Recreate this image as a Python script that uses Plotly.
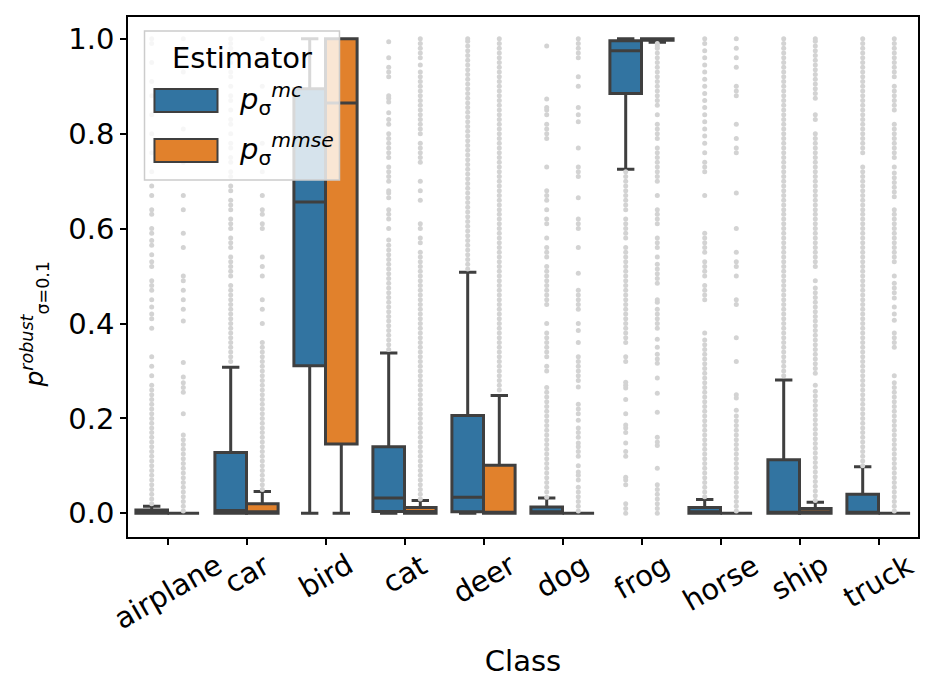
import plotly.graph_objects as go

classes = ["airplane", "car", "bird", "cat", "deer", "dog", "frog", "horse", "ship", "truck"]
ytick_vals = [0.0, 0.2, 0.4, 0.6, 0.8, 1.0]
ytick_text = ["0.0", "0.2", "0.4", "0.6", "0.8", "1.0"]

# p_sigma^mc box statistics
mc_q1 = [0.0, 0.0, 0.311, 0.004, 0.003, 0.0, 0.885, 0.0, 0.0, 0.0]
mc_med = [0.003, 0.006, 0.656, 0.032, 0.034, 0.003, 0.975, 0.003, 0.002, 0.001]
mc_q3 = [0.007, 0.128, 0.895, 0.140, 0.206, 0.013, 0.996, 0.012, 0.113, 0.040]
mc_lo = [0.0, 0.0, 0.0, 0.0, 0.0, 0.0, 0.725, 0.0, 0.0, 0.0]
mc_hi = [0.015, 0.308, 1.0, 0.338, 0.508, 0.032, 1.0, 0.029, 0.281, 0.098]

# p_sigma^mmse box statistics
mmse_q1 = [0.0, 0.0, 0.146, 0.0, 0.0, 0.0, 0.997, 0.0, 0.0, 0.0]
mmse_med = [0.0, 0.003, 0.865, 0.004, 0.0, 0.0, 1.0, 0.0, 0.003, 0.0]
mmse_q3 = [0.0, 0.020, 1.0, 0.012, 0.101, 0.0, 1.0, 0.0, 0.010, 0.0]
mmse_lo = [0.0, 0.0, 0.0, 0.0, 0.0, 0.0, 0.993, 0.0, 0.0, 0.0]
mmse_hi = [0.0, 0.046, 1.0, 0.027, 0.248, 0.0, 1.0, 0.0, 0.023, 0.0]

# outliers, p_sigma^mc
mc_out_airplane = [0.02,0.03,0.04,0.05,0.06,0.07,0.08,0.09,0.10,0.11,0.12,0.13,0.14,0.15,0.16,0.17,0.18,0.19,0.20,0.21,0.22,0.23,0.24,0.25,0.26,0.27,0.29,0.31,0.33,0.39,0.41,0.42,0.435,0.45,0.47,0.48,0.49,0.52,0.53,0.545,0.565,0.575,0.59,0.60,0.63,0.64,0.67,0.69,0.72,0.76,0.80,0.84,0.88,0.91,0.95,0.99,1.0]
mc_out_car = [0.32,0.33,0.34,0.35,0.36,0.37,0.38,0.39,0.40,0.41,0.42,0.43,0.44,0.45,0.46,0.47,0.48,0.50,0.51,0.52,0.53,0.54,0.56,0.57,0.58,0.60,0.61,0.62,0.64,0.65,0.66,0.68,0.69,0.71,0.72,0.74,0.75,0.77,0.78,0.80,0.82,0.83,0.85,0.87,0.88,0.90,0.92,0.93,0.95,0.96,0.98,0.99,1.0]
mc_out_bird = []
mc_out_cat = [0.345,0.355,0.365,0.375,0.385,0.395,0.405,0.415,0.425,0.435,0.445,0.455,0.465,0.475,0.485,0.495,0.505,0.515,0.525,0.535,0.545,0.555,0.565,0.576,0.60,0.62,0.63,0.64,0.665,0.675,0.68,0.70,0.71,0.72,0.73,0.75,0.76,0.77,0.78,0.79,0.80,0.82,0.83,0.844,0.867,0.875,0.88,0.92,0.93,0.94,0.96,0.994]
mc_out_deer = [0.515,0.525,0.535,0.545,0.555,0.565,0.575,0.585,0.595,0.605,0.615,0.625,0.635,0.645,0.655,0.665,0.675,0.685,0.695,0.705,0.715,0.725,0.735,0.745,0.755,0.765,0.775,0.785,0.795,0.805,0.815,0.825,0.835,0.845,0.855,0.865,0.875,0.885,0.895,0.905,0.915,0.925,0.935,0.945,0.955,0.965,0.975,0.985,0.995,1.0]
mc_out_dog = [0.034,0.045,0.055,0.065,0.075,0.085,0.095,0.105,0.115,0.125,0.135,0.145,0.155,0.165,0.175,0.185,0.195,0.205,0.215,0.225,0.235,0.245,0.255,0.265,0.30,0.31,0.33,0.34,0.35,0.36,0.37,0.38,0.40,0.44,0.45,0.46,0.47,0.48,0.49,0.50,0.51,0.52,0.54,0.55,0.56,0.58,0.61,0.62,0.64,0.66,0.67,0.68,0.73,0.79,0.80,0.81,0.82,0.84,0.85,0.855,0.873,0.985]
mc_out_frog = [0.0,0.01,0.02,0.06,0.07,0.076,0.12,0.13,0.148,0.17,0.18,0.186,0.21,0.24,0.264,0.27,0.276,0.32,0.33,0.36,0.37,0.38,0.39,0.40,0.41,0.42,0.43,0.44,0.45,0.46,0.47,0.48,0.49,0.50,0.51,0.52,0.53,0.54,0.55,0.56,0.58,0.59,0.60,0.61,0.62,0.64,0.65,0.66,0.67,0.68,0.69,0.70,0.71,0.72]
mc_out_horse = [0.035,0.045,0.055,0.065,0.075,0.085,0.095,0.105,0.115,0.125,0.135,0.145,0.155,0.165,0.175,0.185,0.195,0.205,0.215,0.225,0.235,0.245,0.255,0.265,0.275,0.285,0.295,0.305,0.315,0.325,0.335,0.345,0.355,0.365,0.38,0.45,0.46,0.47,0.48,0.50,0.51,0.52,0.53,0.55,0.56,0.57,0.58,0.59,0.67,0.72,0.73,0.74,0.76,0.78,0.795,0.81,0.825,0.84,0.855,0.87,0.885,0.90,0.915,0.93,0.945,0.96,0.975,0.99,1.0]
mc_out_ship = [0.29,0.30,0.31,0.32,0.33,0.34,0.35,0.36,0.37,0.38,0.39,0.40,0.41,0.42,0.43,0.44,0.45,0.46,0.47,0.48,0.49,0.50,0.51,0.52,0.53,0.54,0.55,0.56,0.57,0.58,0.59,0.60,0.61,0.62,0.63,0.64,0.65,0.66,0.67,0.68,0.69,0.70,0.71,0.72,0.73,0.74,0.75,0.76,0.77,0.78,0.79,0.80,0.81,0.82,0.83,0.84,0.85,0.86,0.87,0.88,0.89,0.90,0.91,0.92,0.93,0.94,0.95,0.96,0.97,0.98,0.99,1.0]
mc_out_truck = [0.10,0.11,0.12,0.13,0.14,0.15,0.16,0.17,0.18,0.19,0.20,0.21,0.22,0.23,0.24,0.25,0.26,0.27,0.28,0.29,0.30,0.31,0.32,0.33,0.34,0.35,0.36,0.37,0.38,0.39,0.40,0.41,0.42,0.43,0.44,0.45,0.46,0.47,0.48,0.49,0.50,0.51,0.52,0.53,0.54,0.55,0.56,0.57,0.58,0.59,0.60,0.61,0.62,0.63,0.64,0.65,0.66,0.67,0.68,0.69,0.70,0.71,0.72,0.73,0.76,0.77,0.78,0.79,0.80,0.81,0.82,0.83,0.84,0.85,0.86,0.87,0.88,0.89,0.90,0.91,0.92,0.93,0.94,0.95,0.96,0.97,0.98,0.99,1.0]

# outliers, p_sigma^mmse
mmse_out_airplane = [0.005,0.015,0.025,0.035,0.045,0.055,0.065,0.075,0.085,0.095,0.105,0.115,0.125,0.135,0.145,0.155,0.165,0.21,0.255,0.265,0.275,0.287,0.318,0.405,0.43,0.45,0.47,0.49,0.50,0.56,0.59,0.64,0.67,0.74,0.81,0.87,0.93,0.98,1.0]
mmse_out_car = [0.05,0.06,0.07,0.08,0.09,0.10,0.11,0.12,0.13,0.14,0.15,0.16,0.17,0.18,0.19,0.20,0.21,0.22,0.23,0.24,0.25,0.26,0.27,0.28,0.29,0.30,0.31,0.32,0.33,0.34,0.35,0.36,0.40,0.43,0.45,0.50,0.52,0.54,0.60,0.61,0.63,0.64,0.67,0.72,0.78,0.85,0.90,0.95,1.0]
mmse_out_bird = []
mmse_out_cat = [0.03,0.04,0.05,0.06,0.07,0.08,0.09,0.10,0.11,0.12,0.13,0.14,0.15,0.16,0.17,0.18,0.19,0.20,0.21,0.22,0.23,0.24,0.25,0.26,0.27,0.28,0.29,0.30,0.31,0.32,0.33,0.34,0.35,0.36,0.37,0.38,0.39,0.40,0.41,0.42,0.43,0.44,0.45,0.46,0.47,0.48,0.49,0.50,0.51,0.52,0.53,0.54,0.55,0.57,0.58,0.60,0.61,0.66,0.68,0.70,0.74,0.75,0.76,0.77,0.78,0.80,0.81,0.82,0.83,0.84,0.85,0.86,0.87,0.88,0.89,0.90,0.91,0.92,0.93,0.945,0.96,0.97,0.98,0.99,1.0]
mmse_out_deer = [0.26,0.27,0.28,0.29,0.30,0.31,0.32,0.33,0.34,0.35,0.36,0.37,0.38,0.39,0.40,0.41,0.42,0.43,0.44,0.45,0.46,0.47,0.48,0.49,0.50,0.51,0.52,0.53,0.54,0.55,0.56,0.57,0.58,0.59,0.60,0.61,0.62,0.63,0.64,0.65,0.66,0.67,0.68,0.69,0.70,0.71,0.72,0.73,0.74,0.75,0.76,0.77,0.78,0.79,0.80,0.81,0.82,0.83,0.84,0.85,0.86,0.87,0.88,0.89,0.90,0.91,0.92,0.93,0.94,0.95,0.96,0.97,0.98,0.99,1.0]
mmse_out_dog = [0.005,0.015,0.025,0.035,0.045,0.055,0.07,0.08,0.087,0.10,0.12,0.13,0.14,0.148,0.16,0.17,0.18,0.196,0.21,0.22,0.23,0.266,0.28,0.29,0.30,0.31,0.32,0.33,0.36,0.385,0.40,0.43,0.44,0.45,0.46,0.47,0.506,0.56,0.60,0.61,0.62,0.665,0.71,0.72,0.73,0.77,0.825,0.84,0.855,0.90,0.92,0.96,0.97,0.98,0.99,1.0]
mmse_out_frog = [0.0,0.01,0.02,0.03,0.04,0.05,0.06,0.095,0.143,0.15,0.16,0.213,0.253,0.285,0.316,0.325,0.335,0.35,0.367,0.39,0.40,0.41,0.42,0.43,0.445,0.45,0.485,0.495,0.505,0.515,0.525,0.54,0.56,0.57,0.58,0.61,0.62,0.63,0.64,0.67,0.70,0.71,0.72,0.73,0.74,0.75,0.76,0.77,0.79,0.80,0.81,0.82,0.84,0.86,0.87,0.88,0.89,0.90,0.91,0.92,0.93,0.94,0.95,0.96,0.97,0.98,0.985,0.99]
mmse_out_horse = [0.005,0.015,0.025,0.035,0.045,0.055,0.065,0.075,0.085,0.095,0.105,0.115,0.125,0.135,0.145,0.155,0.165,0.175,0.185,0.195,0.205,0.217,0.243,0.25,0.32,0.37,0.44,0.45,0.50,0.52,0.53,0.55,0.60,0.675,0.76,0.77,0.79,0.82,0.88,0.89,0.90,0.94,0.96,0.98,1.0]
mmse_out_ship = [0.027,0.037,0.047,0.057,0.067,0.077,0.087,0.097,0.107,0.117,0.127,0.137,0.147,0.157,0.167,0.177,0.187,0.197,0.207,0.217,0.227,0.237,0.247,0.257,0.27,0.295,0.305,0.315,0.325,0.335,0.345,0.355,0.365,0.375,0.385,0.395,0.405,0.415,0.425,0.435,0.445,0.455,0.465,0.475,0.49,0.52,0.53,0.54,0.55,0.56,0.57,0.58,0.59,0.60,0.61,0.62,0.63,0.64,0.65,0.66,0.67,0.68,0.69,0.70,0.71,0.72,0.73,0.74,0.75,0.76,0.77,0.78,0.79,0.80,0.83,0.84,0.875,0.885,0.895,0.905,0.915,0.925,0.935,0.945,0.955,0.965,0.975,0.985,0.995,1.0]
mmse_out_truck = [0.005,0.015,0.025,0.035,0.045,0.055,0.065,0.075,0.085,0.095,0.105,0.115,0.125,0.135,0.145,0.155,0.165,0.175,0.185,0.195,0.205,0.215,0.225,0.235,0.245,0.255,0.265,0.275,0.29,0.35,0.36,0.37,0.38,0.407,0.42,0.435,0.454,0.465,0.475,0.485,0.50,0.53,0.54,0.55,0.56,0.57,0.58,0.59,0.60,0.61,0.62,0.63,0.64,0.667,0.677,0.687,0.697,0.707,0.717,0.73,0.75,0.76,0.77,0.78,0.79,0.80,0.81,0.82,0.85,0.86,0.87,0.88,0.89,0.90,0.92,0.93,0.94,0.95,0.96,0.97,0.98,0.99,1.0]

mc_out = [mc_out_airplane, mc_out_car, mc_out_bird, mc_out_cat, mc_out_deer,
          mc_out_dog, mc_out_frog, mc_out_horse, mc_out_ship, mc_out_truck]
mmse_out = [mmse_out_airplane, mmse_out_car, mmse_out_bird, mmse_out_cat, mmse_out_deer,
            mmse_out_dog, mmse_out_frog, mmse_out_horse, mmse_out_ship, mmse_out_truck]

BLUE = "#3274a1"
ORANGE = "#e1812c"
EDGE = "#3f3f3f"
FLIER = "#d3d3d3"
FONT = "DejaVu Sans"
HUE_OFFSET = 0.2
BOX_W = 0.4
FS = 29

fig = go.Figure()

series = [
    ("mc", -HUE_OFFSET, BLUE, mc_q1, mc_med, mc_q3, mc_lo, mc_hi, mc_out),
    ("mmse", HUE_OFFSET, ORANGE, mmse_q1, mmse_med, mmse_q3, mmse_lo, mmse_hi, mmse_out),
]

for name, off, col, q1, med, q3, lo, hi, outs in series:
    xs = [i + off for i in range(len(classes))]
    ox, oy = [], []
    for i, vals in enumerate(outs):
        ox += [i + off] * len(vals)
        oy += vals
    fig.add_trace(go.Scatter(x=ox, y=oy, mode="markers",
                             marker=dict(color=FLIER, size=5, line=dict(width=0)),
                             showlegend=False, hoverinfo="skip"))
    fig.add_trace(go.Box(x=xs, q1=q1, median=med, q3=q3, lowerfence=lo, upperfence=hi,
                         orientation="v", width=BOX_W, fillcolor=col,
                         line=dict(color=EDGE, width=3), whiskerwidth=0.55,
                         boxpoints=False, name=name, showlegend=False))

annotations = []
for i, c in enumerate(classes):
    annotations.append(dict(x=i, xref="x", y=0, yref="paper", yshift=-8, text=c,
                            textangle=-30, xanchor="center", yanchor="top",
                            showarrow=False, font=dict(family=FONT, size=FS, color="black")))

# y-axis label
annotations.append(dict(x=-0.118, y=0.41, xref="paper", yref="paper",
                        text="<i>p</i><sup><i>robust</i></sup><sub>σ=0.1</sub>",
                        textangle=-90, showarrow=False, xanchor="center", yanchor="middle",
                        font=dict(family=FONT, size=25, color="black")))

# legend (drawn manually to mimic the wide patches)
LX0, LX1, LY0, LY1 = 0.0209, 0.2677, 0.6865, 0.973
shapes = [
    dict(type="rect", xref="paper", yref="paper", x0=LX0, x1=LX1, y0=LY0, y1=LY1,
         fillcolor="rgba(255,255,255,0.8)", line=dict(color="#cccccc", width=1.5), layer="above"),
    dict(type="rect", xref="paper", yref="paper", x0=0.0335, x1=0.1133, y0=0.8173, y1=0.8615,
         fillcolor=BLUE, line=dict(color=EDGE, width=2), layer="above"),
    dict(type="rect", xref="paper", yref="paper", x0=0.0335, x1=0.1133, y0=0.7212, y1=0.7654,
         fillcolor=ORANGE, line=dict(color=EDGE, width=2), layer="above"),
]
annotations.append(dict(x=0.1443, y=0.921, xref="paper", yref="paper", text="Estimator",
                        showarrow=False, xanchor="center", yanchor="middle",
                        font=dict(family=FONT, size=FS, color="black")))
annotations.append(dict(x=0.1386, y=0.842, xref="paper", yref="paper",
                        text="<i>p</i><sub>σ</sub><sup><i>mc</i></sup>",
                        showarrow=False, xanchor="left", yanchor="middle",
                        font=dict(family=FONT, size=FS, color="black")))
annotations.append(dict(x=0.1386, y=0.746, xref="paper", yref="paper",
                        text="<i>p</i><sub>σ</sub><sup><i>mmse</i></sup>",
                        showarrow=False, xanchor="left", yanchor="middle",
                        font=dict(family=FONT, size=FS, color="black")))

# the page adds an 8px body margin, so the figure is sized/shifted to compensate
fig.update_layout(
    width=925, height=689,
    margin=dict(l=120, r=15, t=9, b=160),
    paper_bgcolor="white", plot_bgcolor="white",
    font=dict(family=FONT, size=FS, color="black"),
    showlegend=False,
    boxmode="overlay",
    shapes=shapes,
    annotations=annotations,
    xaxis=dict(range=[-0.5, 9.5], tickvals=list(range(len(classes))), showticklabels=False,
               ticks="outside", ticklen=6, tickwidth=1.5, tickcolor="black",
               showline=True, linecolor="black", linewidth=1.5, mirror=True,
               showgrid=False, zeroline=False, automargin=False,
               title=dict(text="Class", font=dict(family=FONT, size=FS), standoff=107)),
    yaxis=dict(range=[-0.05, 1.046], tickvals=ytick_vals, ticktext=ytick_text,
               ticks="outside", ticklen=6, tickwidth=1.5, tickcolor="black",
               showline=True, linecolor="black", linewidth=1.5, mirror=True,
               showgrid=False, zeroline=False, automargin=False,
               tickfont=dict(family=FONT, size=FS)),
)

fig.write_html("out.html")
